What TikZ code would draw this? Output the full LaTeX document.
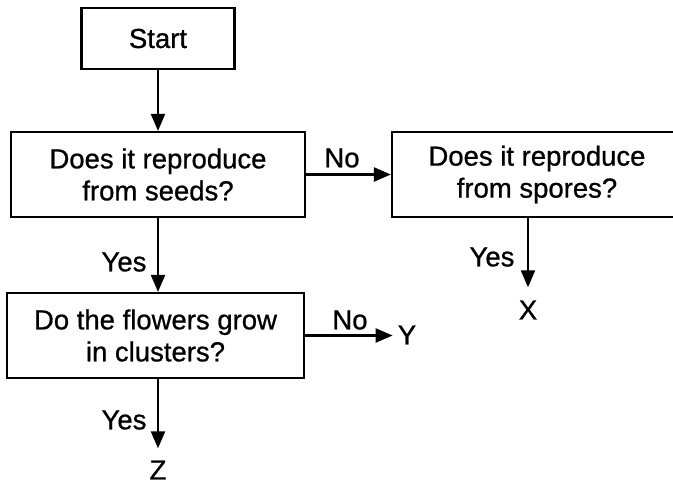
\documentclass[tikz,border=0pt]{standalone}
\usepackage{fontspec}
\setmainfont{Liberation Sans}
\newfontfamily\flowfont{Liberation Sans}[FakeBold=0.8]
\usetikzlibrary{arrows.meta}

\tikzset{
	qbox/.style={draw,line width=2.2pt,minimum width=#1,minimum height=85pt,inner sep=0pt,align=center,font=\flowfont\fontsize{27.5}{32}\selectfont},
	lbl/.style={inner sep=0pt,font=\flowfont\fontsize{27.5}{32}\selectfont},
	flow/.style={line width=2.2pt,-{Triangle[length=17pt,width=14pt]}}
}

\begin{document}
\begin{tikzpicture}[x=1pt,y=-1pt]
	\useasboundingbox (0,0) rectangle (673,485);
	\node[qbox=153pt,minimum height=61pt] (start) at (158,38.5) {Start};
	\node[qbox=294pt] (seeds) at (158,174.5) {Does it reproduce\\from seeds?};
	\node[qbox=290pt] (spores) at (537,174.5) {Does it reproduce\\from spores?};
	\node[qbox=297pt] (clusters) at (155.5,335.5) {Do the flowers grow\\in clusters?};
	\node[lbl] (X) at (528,310) {X};
	\node[lbl] (Y) at (407,335) {Y};
	\node[lbl] (Z) at (158,470) {Z};
	% answers
	\node[lbl] (no1) at (342,158) {No};
	\node[lbl] (no2) at (350,320) {No};
	\node[lbl] (yes1) at (124,262) {Yes};
	\node[lbl] (yes2) at (124,420) {Yes};
	\node[lbl] (yes3) at (492,257) {Yes};
	\draw[flow] (start.south) -- (start.south |- seeds.north);
	\draw[flow] (seeds.east) -- (spores.west);
	\draw[flow] (seeds.south) -- (clusters.north -| seeds.south);
	\draw[flow,shorten >=5pt] (clusters.east) -- (clusters.east -| Y.west);
	\draw[flow,shorten >=12pt] (clusters.south -| Z.north) -- (Z.north);
	\draw[flow,shorten >=13pt] (spores.south -| X.north) -- (X.north);
\end{tikzpicture}
\end{document}
